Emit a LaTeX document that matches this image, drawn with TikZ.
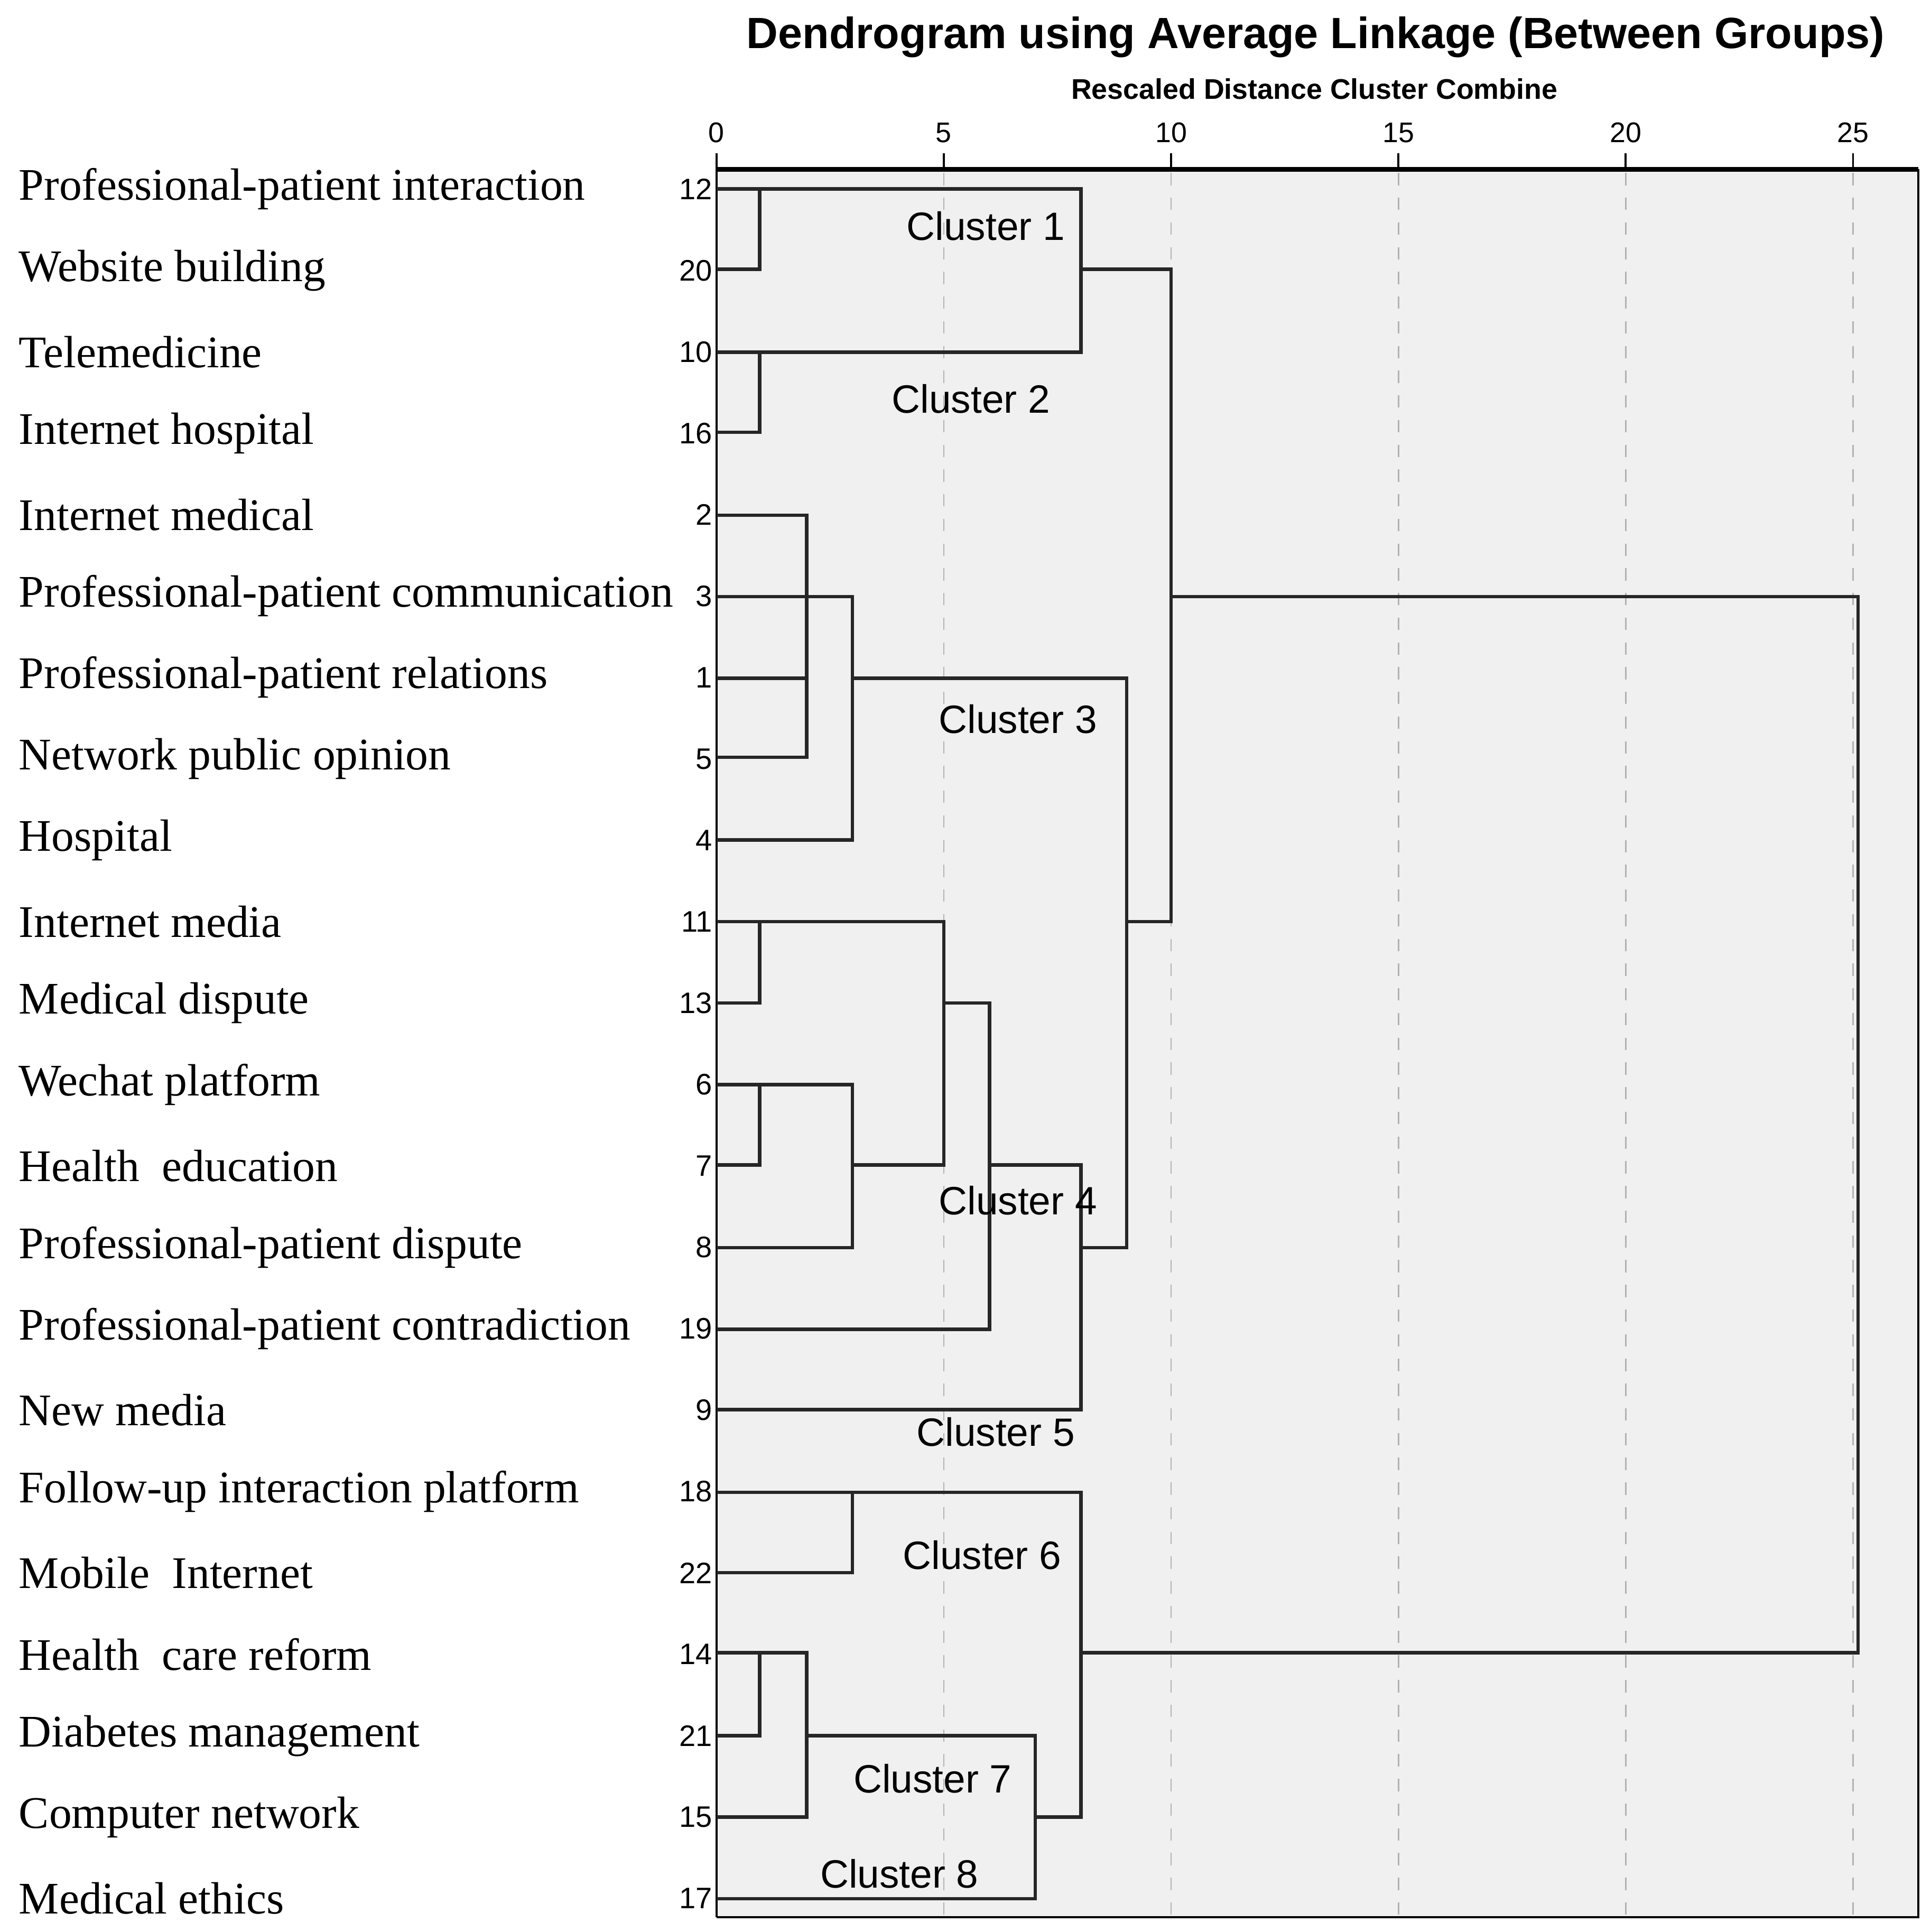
\documentclass[tikz,border=0pt]{standalone}
\usepackage{fontspec}
\setmainfont{Liberation Serif}
\newfontfamily\sans{Liberation Sans}
\begin{document}
\begin{tikzpicture}[x=0.5pt,y=-0.5pt,
  dl/.style={line width=1.4pt,black!85},
  grid/.style={gray!60,dashed,line width=0.6pt,dash pattern=on 5pt off 5pt},
  rowlab/.style={anchor=west,font=\fontsize{18.3}{18}\selectfont,inner sep=0},
  num/.style={anchor=east,font=\sans\fontsize{12}{12}\selectfont,inner sep=0},
  tick/.style={anchor=south,font=\sans\fontsize{11.5}{12}\selectfont,inner sep=0},
  clab/.style={font=\sans\fontsize{16}{16}\selectfont,inner sep=1pt}]
\useasboundingbox (0,0) rectangle (1563,1564);
\fill[gray!12] (580,137) rectangle (1553,1552);
\draw[line width=0.8pt] (580,1552) -- (580,137) (1553,137) -- (1553,1552) -- (580,1552);
\draw[line width=2pt] (580,137) -- (1553,137);
\foreach \d in {5,10,15,20,25}{\draw[grid] ({580+36.8*\d},140) -- ({580+36.8*\d},1550);}
\foreach \d in {0,5,10,15,20,25}{
  \draw[line width=0.8pt] ({580+36.8*\d},124) -- ({580+36.8*\d},137);
  \node[tick] (t\d) at ({580+36.8*\d},116) {\d};}
\node[font=\sans\bfseries\fontsize{17.7}{18}\selectfont] (title) at (1065,30) {Dendrogram using Average Linkage (Between Groups)};
\node[font=\sans\bfseries\fontsize{11.5}{12}\selectfont] (sub) at (1064,72) {Rescaled Distance Cluster Combine};
\foreach \lab/\n [count=\i from 0] in {
 Professional-patient interaction/12, Website building/20, Telemedicine/10,
 Internet hospital/16, Internet medical/2, Professional-patient communication/3,
 Professional-patient relations/1, Network public opinion/5, Hospital/4,
 Internet media/11, Medical dispute/13, Wechat platform/6,
 Health\ \ education/7, Professional-patient dispute/8,
 Professional-patient contradiction/19, New media/9,
 Follow-up interaction platform/18, Mobile\ \ Internet/22,
 Health\ \ care reform/14, Diabetes management/21, Computer network/15,
 Medical ethics/17}{
 \node[rowlab] (r\i) at (15,{153+65.9*\i}) {\lab};
 \node[num] (n\i) at (577,{153+65.9*\i}) {\n};}
% cluster 1,2
\draw[dl] (580,153) -- (875,153) -- (875,285) -- (580,285);
\draw[dl] (580,218) -- (615,218) -- (615,153);
\draw[dl] (875,218) -- (948,218) -- (948,746) -- (912,746);
\draw[dl] (615,285) -- (615,350) -- (580,350);
\draw[dl] (948,483) -- (1504,483) -- (1504,1338) -- (875,1338);
% cluster 3
\draw[dl] (580,417) -- (653,417) -- (653,613) -- (580,613);
\draw[dl] (580,483) -- (690,483) -- (690,680) -- (580,680);
\draw[dl] (580,549) -- (653,549);
\draw[dl] (690,549) -- (912,549) -- (912,1010) -- (875,1010);
% cluster 4
\draw[dl] (580,746) -- (764,746) -- (764,943) -- (690,943);
\draw[dl] (615,746) -- (615,812) -- (580,812);
\draw[dl] (764,812) -- (801,812) -- (801,1076) -- (580,1076);
\draw[dl] (580,878) -- (690,878) -- (690,1010) -- (580,1010);
\draw[dl] (615,878) -- (615,943) -- (580,943);
\draw[dl] (801,943) -- (875,943) -- (875,1141) -- (580,1141);
% cluster 6-8
\draw[dl] (580,1208) -- (875,1208) -- (875,1471) -- (838,1471);
\draw[dl] (690,1208) -- (690,1273) -- (580,1273);
\draw[dl] (580,1338) -- (653,1338) -- (653,1471) -- (580,1471);
\draw[dl] (615,1338) -- (615,1405) -- (580,1405);
\draw[dl] (653,1405) -- (838,1405) -- (838,1537) -- (580,1537);
\node[clab] (c1) at (798,183) {Cluster 1};
\node[clab] (c2) at (786,323) {Cluster 2};
\node[clab] (c3) at (824,582) {Cluster 3};
\node[clab] (c4) at (824,972) {Cluster 4};
\node[clab] (c5) at (806,1159) {Cluster 5};
\node[clab] (c6) at (795,1259) {Cluster 6};
\node[clab] (c7) at (755,1440) {Cluster 7};
\node[clab] (c8) at (728,1517) {Cluster 8};
\end{tikzpicture}
\end{document}
